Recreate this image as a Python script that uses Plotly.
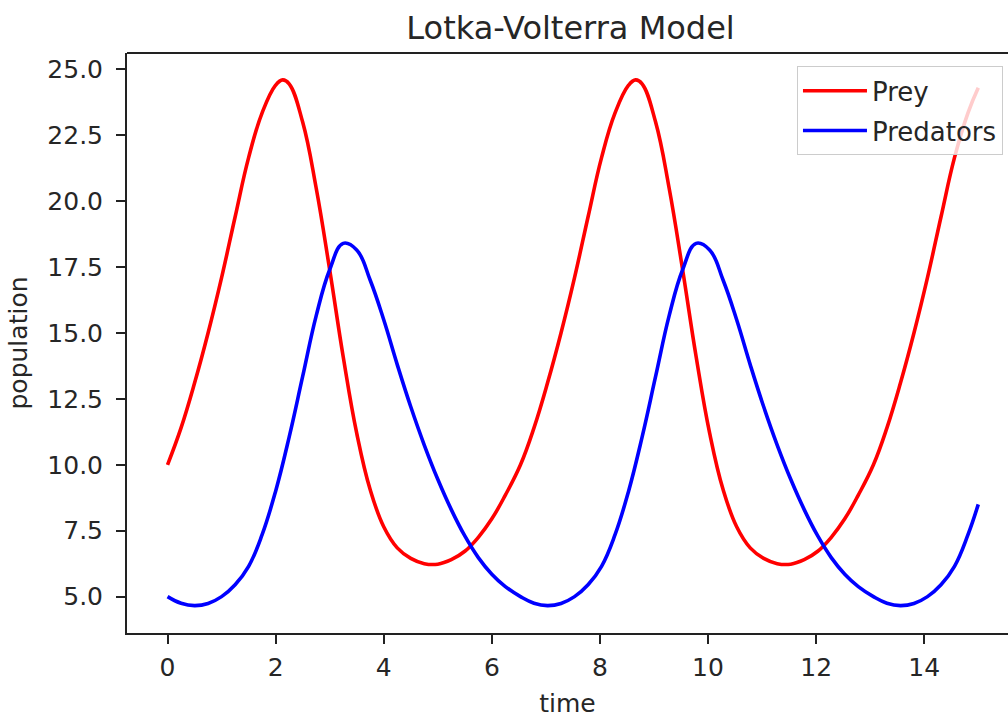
import plotly.graph_objects as go

# time values for the prey curve (x axis "time")
time_prey = [0.0, 0.25, 0.5, 0.75, 1.0, 1.25, 1.5, 1.75, 2.0, 2.13, 2.25, 2.5, 2.75, 3.0, 3.25,
             3.5, 3.75, 4.0, 4.25, 4.5, 4.75, 5.0, 5.25, 5.5, 5.75, 6.0, 6.25,
             6.53, 6.78, 7.03, 7.28, 7.53, 7.78, 8.03, 8.28, 8.53, 8.66, 8.78, 9.03, 9.28, 9.53,
             9.78, 10.03, 10.28, 10.53, 10.78, 11.03, 11.28, 11.53, 11.78, 12.03, 12.28,
             12.53, 12.78,
             13.06, 13.31, 13.56, 13.81, 14.06, 14.31, 14.56, 14.81, 15.0]

# Prey population (red)
prey = [10.0, 11.4, 13.1, 15.0, 17.1, 19.4, 21.65, 23.35, 24.4, 24.6, 24.45, 23.0, 20.5, 17.4, 14.1,
        11.2, 9.05, 7.65, 6.85, 6.45, 6.25, 6.23, 6.4, 6.72, 7.25, 7.95, 8.85,
        10.0, 11.4, 13.1, 15.0, 17.1, 19.4, 21.65, 23.35, 24.4, 24.6, 24.45, 23.0, 20.5, 17.4,
        14.1, 11.2, 9.05, 7.65, 6.85, 6.45, 6.25, 6.23, 6.4, 6.72, 7.25,
        7.95, 8.85,
        10.0, 11.4, 13.1, 15.0, 17.1, 19.4, 21.65, 23.35, 24.3]

# time values for the predator curve
time_pred = [0.0, 0.25, 0.5, 0.75, 1.0, 1.25, 1.5, 1.75, 2.0, 2.25, 2.5, 2.75, 3.0, 3.25,
             3.5, 3.75, 4.0, 4.25, 4.5, 4.75, 5.0, 5.25, 5.5, 5.75, 6.0, 6.25,
             6.53, 6.78, 7.03, 7.28, 7.53, 7.78, 8.03, 8.28, 8.53, 8.78, 9.03, 9.28, 9.53,
             9.78, 10.03, 10.28, 10.53, 10.78, 11.03, 11.28, 11.53, 11.78, 12.03, 12.28,
             12.53, 12.78,
             13.06, 13.31, 13.56, 13.81, 14.06, 14.31, 14.56, 14.81, 15.0]

# Predator population (blue)
predators = [5.0, 4.75, 4.66, 4.74, 5.0, 5.45, 6.15, 7.35, 9.0, 11.05, 13.35, 15.65, 17.4, 18.4,
             18.15, 17.0, 15.5, 13.8, 12.2, 10.75, 9.45, 8.3, 7.3, 6.48, 5.85, 5.38,
             5.0, 4.75, 4.66, 4.74, 5.0, 5.45, 6.15, 7.35, 9.0, 11.05, 13.35, 15.65, 17.4,
             18.4, 18.15, 17.0, 15.5, 13.8, 12.2, 10.75, 9.45, 8.3, 7.3, 6.48,
             5.85, 5.38,
             5.0, 4.75, 4.66, 4.74, 5.0, 5.45, 6.15, 7.35, 8.5]

x_ticks = [0, 2, 4, 6, 8, 10, 12, 14]
y_ticks = [5.0, 7.5, 10.0, 12.5, 15.0, 17.5, 20.0, 22.5, 25.0]

FONT = "DejaVu Sans"
TXT = "#262626"
AX = "#222222"

fig = go.Figure()
fig.add_trace(go.Scatter(x=time_prey, y=prey, mode="lines", name="Prey", legendgroup="prey",
                         line=dict(color="#ff0000", width=3.6, shape="spline", smoothing=1.2)))
fig.add_trace(go.Scatter(x=time_pred, y=predators, mode="lines", name="Predators", legendgroup="pred",
                         line=dict(color="#0000ff", width=3.6, shape="spline", smoothing=1.2)))

fig.update_layout(
    width=1008, height=718,
    margin=dict(l=127, r=0, t=53, b=85),
    paper_bgcolor="white", plot_bgcolor="white",
    font=dict(family=FONT, size=25, color=TXT),
    title=dict(text="Lotka-Volterra Model", x=0.566, xanchor="center",
               y=1 - 28 / 718, yanchor="middle", yref="container",
               font=dict(family=FONT, size=32, color=TXT)),
    showlegend=True,
    legend=dict(x=0.9943, xanchor="right", y=0.977, yanchor="top",
                bgcolor="rgba(255,255,255,0.8)", bordercolor="#cccccc", borderwidth=1,
                itemwidth=64, tracegroupgap=3,
                font=dict(family=FONT, size=26, color=TXT)),
    shapes=[dict(type="line", xref="paper", yref="paper", x0=0, x1=1, y0=1, y1=1,
                 line=dict(color=AX, width=2))],
)

fig.update_xaxes(
    range=[-0.75, 15.55], tickvals=x_ticks, ticktext=[str(v) for v in x_ticks],
    showline=True, linecolor=AX, linewidth=2, mirror=False,
    ticks="outside", ticklen=9, tickwidth=2, tickcolor=AX, ticklabelstandoff=2,
    showgrid=False, zeroline=False,
    title=dict(text="time", standoff=15, font=dict(family=FONT, size=25, color=TXT)),
)
fig.update_yaxes(
    range=[3.62, 25.62], tickvals=y_ticks, ticktext=[f"{v:.1f}" for v in y_ticks],
    showline=True, linecolor=AX, linewidth=2, mirror=False,
    ticks="outside", ticklen=9, tickwidth=2, tickcolor=AX, ticklabelstandoff=8,
    showgrid=False, zeroline=False,
    title=dict(text="population", standoff=13, font=dict(family=FONT, size=25, color=TXT)),
)

fig.write_html("out.html")
